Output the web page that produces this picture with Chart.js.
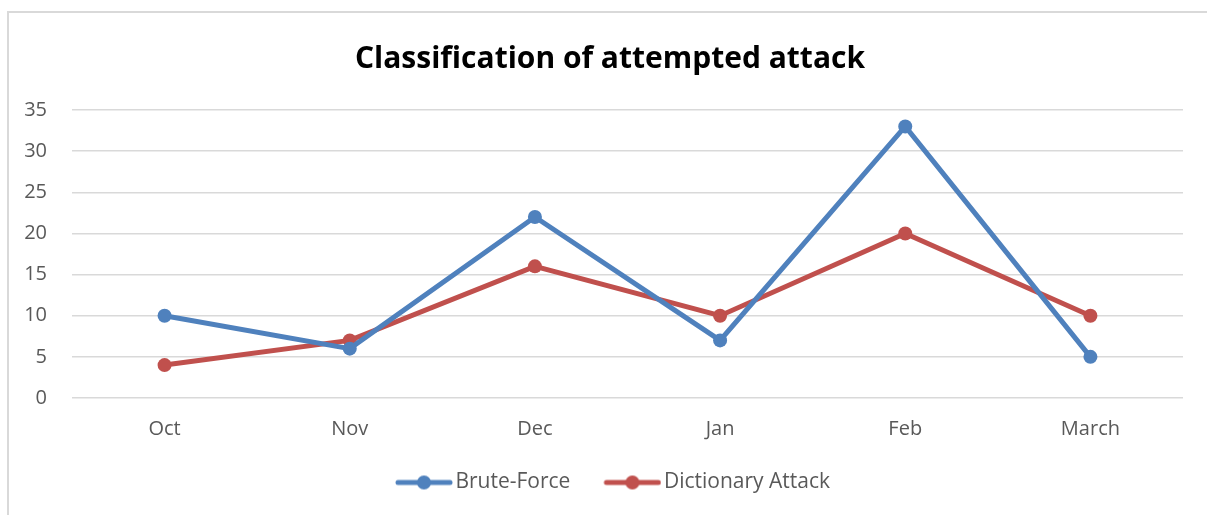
<!DOCTYPE html>
<html>
<head>
<meta charset="utf-8">
<script src="https://cdn.jsdelivr.net/npm/chart.js@4/dist/chart.umd.min.js"></script>
<style>
  html, body { margin: 0; padding: 0; background: #fff; }
  #wrap { position: relative; width: 1207px; height: 515px; overflow: hidden; }
  #frame { position: absolute; left: 7px; top: 11px; width: 1300px; height: 600px;
           border-left: 2px solid #d9d9d9; border-top: 2px solid #d9d9d9; box-sizing: border-box; }
  #chart { position: absolute; left: 0; top: 0; }
</style>
</head>
<body>
<div id="wrap">
  <div id="frame"></div>
  <canvas id="chart" width="1207" height="515"></canvas>
</div>
<script>
// months of the period and attack counts
var months = ['Oct', 'Nov', 'Dec', 'Jan', 'Feb', 'March'];
var bruteForce = [10, 6, 22, 7, 33, 5];
var dictionaryAttack = [4, 7, 16, 10, 20, 10];
var yTicks = [0, 5, 10, 15, 20, 25, 30, 35];

var BLUE = '#4f81bd';
var RED = '#c0504d';
var FONT = "'Open Sans', 'Noto Sans', sans-serif";

// legend marker: a short line with a dot in the middle, like the office legend.
// box is wider than the visible mark (blank on the left = gap between items),
// and the image hangs 8px past the box on the right so the text sits close.
var BOX_W = 71;
function legendMarker(color) {
  var c = document.createElement('canvas');
  var w = BOX_W + 16;
  c.width = w; c.height = 16;
  var g = c.getContext('2d');
  g.strokeStyle = color; g.lineWidth = 5; g.lineCap = 'round';
  g.beginPath(); g.moveTo(w - 55, 8); g.lineTo(w - 3, 8); g.stroke();
  g.fillStyle = color;
  g.beginPath(); g.arc(w - 29, 8, 7, 0, Math.PI * 2); g.fill();
  return c;
}

var markers = [legendMarker(BLUE), legendMarker(RED)];

// title and legend are centred on the frame, not on the space right of the y axis
var centreBoxes = {
  id: 'centreBoxes',
  afterLayout: function (chart) {
    if (chart.titleBlock) chart.titleBlock.left += 37;
    if (chart.legend) chart.legend.left += 21;
  }
};

new Chart(document.getElementById('chart'), {
  type: 'line',
  data: {
    labels: months,
    datasets: [
      {
        label: 'Brute-Force', data: bruteForce,
        borderColor: BLUE, backgroundColor: BLUE,
        borderWidth: 5, pointRadius: 7, pointHoverRadius: 7,
        pointBorderWidth: 0, tension: 0
      },
      {
        label: 'Dictionary Attack', data: dictionaryAttack,
        borderColor: RED, backgroundColor: RED,
        borderWidth: 5, pointRadius: 7, pointHoverRadius: 7,
        pointBorderWidth: 0, tension: 0
      }
    ]
  },
  options: {
    responsive: false, animation: false,
    layout: { padding: { left: 0, right: 24, top: 0, bottom: 12 } },
    scales: {
      x: {
        offset: true,
        grid: { display: false, drawTicks: false },
        border: { display: false },
        ticks: { color: '#595959', font: { family: FONT, size: 20 }, padding: 19 }
      },
      y: {
        min: 0, max: 35,
        afterBuildTicks: function (axis) { axis.ticks = yTicks.map(function (v) { return { value: v }; }); },
        afterFit: function (axis) { axis.width = 72; },
        grid: { color: '#d9d9d9', lineWidth: 1.5, drawTicks: false },
        border: { display: false },
        ticks: { color: '#595959', font: { family: FONT, size: 20 }, padding: 25 }
      }
    },
    plugins: {
      title: {
        display: true, text: 'Classification of attempted attack',
        color: '#000', font: { family: FONT, size: 30, weight: 'bold' },
        padding: { top: 41, bottom: 33 }
      },
      legend: {
        position: 'bottom',
        labels: {
          usePointStyle: true, pointStyleWidth: BOX_W, boxHeight: 16,
          color: '#595959', font: { family: FONT, size: 21 }, padding: 12,
          generateLabels: function (chart) {
            return chart.data.datasets.map(function (ds, i) {
              return { text: ds.label, pointStyle: markers[i], fillStyle: ds.borderColor,
                       strokeStyle: ds.borderColor, lineWidth: 0, datasetIndex: i, fontColor: '#595959' };
            });
          }
        }
      },
      tooltip: { enabled: false }
    }
  },
  plugins: [centreBoxes]
});
</script>
</body>
</html>
